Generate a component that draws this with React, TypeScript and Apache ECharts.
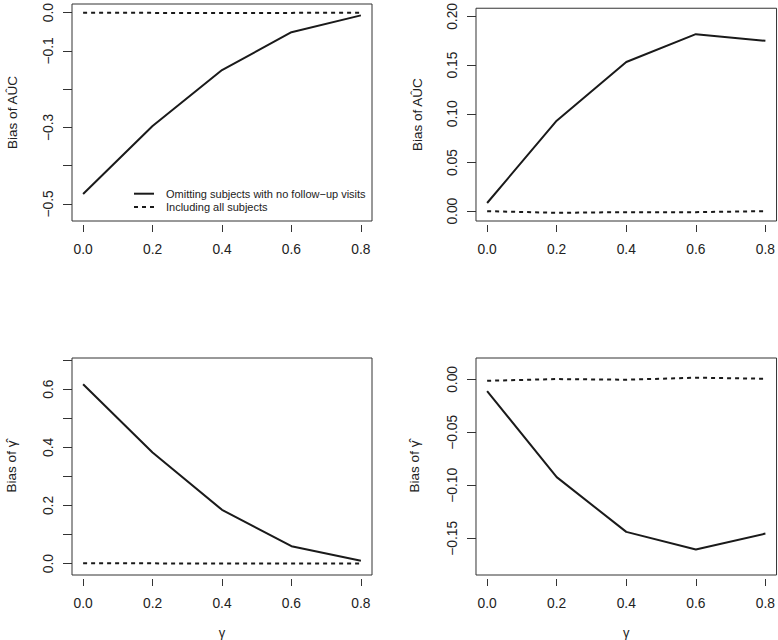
import React, { useEffect, useRef } from "react";
import * as echarts from "echarts";

// x values (gamma)
const gammaValues = [0.0, 0.2, 0.4, 0.6, 0.8];

// Panel 1: bias of AUC (omitting vs including)
const p1Omit = [-0.474, -0.296, -0.150, -0.051, -0.007];
const p1Incl = [0.0, -0.0005, -0.0008, -0.0005, 0.0];
// Panel 2: bias of AUC
const p2Omit = [0.0084, 0.0929, 0.1532, 0.1818, 0.175];
const p2Incl = [0.0, -0.0017, -0.001, -0.001, 0.0];
// Panel 3: bias of gamma-hat
const p3Omit = [0.617, 0.382, 0.185, 0.06, 0.01];
const p3Incl = [0.001, 0.001, 0.0005, 0.0003, 0.0003];
// Panel 4: bias of gamma-hat
const p4Omit = [-0.011, -0.0923, -0.144, -0.1607, -0.1456];
const p4Incl = [-0.0013, 0.0003, -0.0003, 0.0016, 0.0006];

// Tick values and labels
const xTicks = [0, 0.2, 0.4, 0.6, 0.8];
const p1YTicks = [0, -0.1, -0.2, -0.3, -0.4, -0.5];
const p1YLabels = [0, -0.1, -0.3, -0.5];
const p2YTicks = [0, 0.05, 0.1, 0.15, 0.2];
const p3YTicks = [0, 0.1, 0.2, 0.3, 0.4, 0.5, 0.6, 0.7];
const p3YLabels = [0, 0.2, 0.4, 0.6];
const p4YTicks = [0, -0.05, -0.1, -0.15];

const legendNames = [
  "Omitting subjects with no follow\u2212up visits",
  "Including all subjects",
];

const FONT = "Liberation Sans, Arial, Helvetica, sans-serif";
const TXT = "#222";
const LINE = "#1a1a1a";

function fmt(d: number) {
  return (v: number) => (v < -1e-9 ? "\u2212" : "") + Math.abs(v).toFixed(d);
}

export default function App() {
  const ref = useRef<HTMLDivElement>(null);
  useEffect(() => {
    document.body.style.margin = "0";
    const chart = echarts.init(ref.current!, null, { renderer: "svg" });

    const grids = [
      { left: 72, top: 4, width: 300, height: 217 },
      { left: 476, top: 5, width: 301, height: 216 },
      { left: 72, top: 358, width: 300, height: 217 },
      { left: 476, top: 358, width: 301, height: 217 },
    ];
    const yDefs = [
      { min: -0.5445, max: 0.0227, ticks: p1YTicks, labels: p1YLabels, d: 1, name: "Bias of A\u00DBC", gap: 53 },
      { min: -0.0101, max: 0.2084, ticks: p2YTicks, labels: p2YTicks, d: 2, name: "Bias of A\u00DBC", gap: 52 },
      { min: -0.039, max: 0.707, ticks: p3YTicks, labels: p3YLabels, d: 1, name: "Bias of \u03B3\u0302", gap: 54 },
      { min: -0.1847, max: 0.0202, ticks: p4YTicks, labels: p4YTicks, d: 2, name: "Bias of \u03B3\u0302", gap: 55 },
    ];
    const omit = [p1Omit, p2Omit, p3Omit, p4Omit];
    const incl = [p1Incl, p2Incl, p3Incl, p4Incl];

    const option: any = {
      animation: false,
      backgroundColor: "#fff",
      textStyle: { fontFamily: FONT },
      grid: grids.map((g) => ({
        ...g,
        show: true,
        borderColor: "#333",
        borderWidth: 1,
        backgroundColor: "transparent",
        containLabel: false,
      })),
      xAxis: grids.map((_, i) => ({
        type: "value",
        gridIndex: i,
        min: -0.032,
        max: 0.832,
        offset: 4,
        position: "bottom",
        name: i >= 2 ? "\u03B3" : "",
        nameLocation: "middle",
        nameGap: 47,
        nameTextStyle: { color: TXT, fontSize: 13, fontFamily: FONT },
        axisLine: { show: false, onZero: false },
        axisTick: {
          show: true,
          customValues: xTicks,
          length: 7,
          lineStyle: { color: "#333", width: 1 },
        },
        axisLabel: {
          customValues: xTicks,
          formatter: fmt(1),
          margin: 17,
          color: TXT,
          fontSize: 13.8,
          fontFamily: FONT,
        },
        splitLine: { show: false },
      })),
      yAxis: yDefs.map((y, i) => ({
        type: "value",
        gridIndex: i,
        min: y.min,
        max: y.max,
        position: "left",
        name: y.name,
        nameLocation: "middle",
        nameRotate: 90,
        nameGap: y.gap,
        nameTextStyle: { color: TXT, fontSize: 13.5, fontFamily: FONT },
        axisLine: { show: false, onZero: false },
        axisTick: {
          show: true,
          customValues: y.ticks,
          length: 9,
          lineStyle: { color: "#333", width: 1 },
        },
        axisLabel: {
          customValues: y.labels,
          formatter: fmt(y.d),
          rotate: 90,
          margin: 17,
          color: TXT,
          fontSize: 13.8,
          fontFamily: FONT,
        },
        splitLine: { show: false },
      })),
      legend: {
        orient: "vertical",
        left: 133,
        top: 187,
        itemWidth: 20,
        itemHeight: 8,
        itemGap: 0,
        padding: 0,
        data: legendNames,
        itemStyle: { opacity: 0 },
        textStyle: { color: TXT, fontSize: 11, fontFamily: FONT, lineHeight: 13.4, padding: [0, 0, 0, 7] },
        selectedMode: false,
      },
      series: [] as any[],
    };

    for (let i = 0; i < 4; i++) {
      option.series.push({
        type: "line",
        name: legendNames[0],
        xAxisIndex: i,
        yAxisIndex: i,
        data: gammaValues.map((x, k) => [x, omit[i][k]]),
        symbol: "none",
        lineStyle: { color: LINE, width: 2, type: "solid" },
        itemStyle: { color: LINE },
      });
      option.series.push({
        type: "line",
        name: legendNames[1],
        xAxisIndex: i,
        yAxisIndex: i,
        data: gammaValues.map((x, k) => [x, incl[i][k]]),
        symbol: "none",
        lineStyle: { color: LINE, width: 2, type: [4, 4] },
        itemStyle: { color: LINE },
      });
    }

    chart.setOption(option);
    return () => chart.dispose();
  }, []);

  return (
    <div
      ref={ref}
      style={{ position: "absolute", left: 0, top: 0, width: 778, height: 640 }}
    />
  );
}
